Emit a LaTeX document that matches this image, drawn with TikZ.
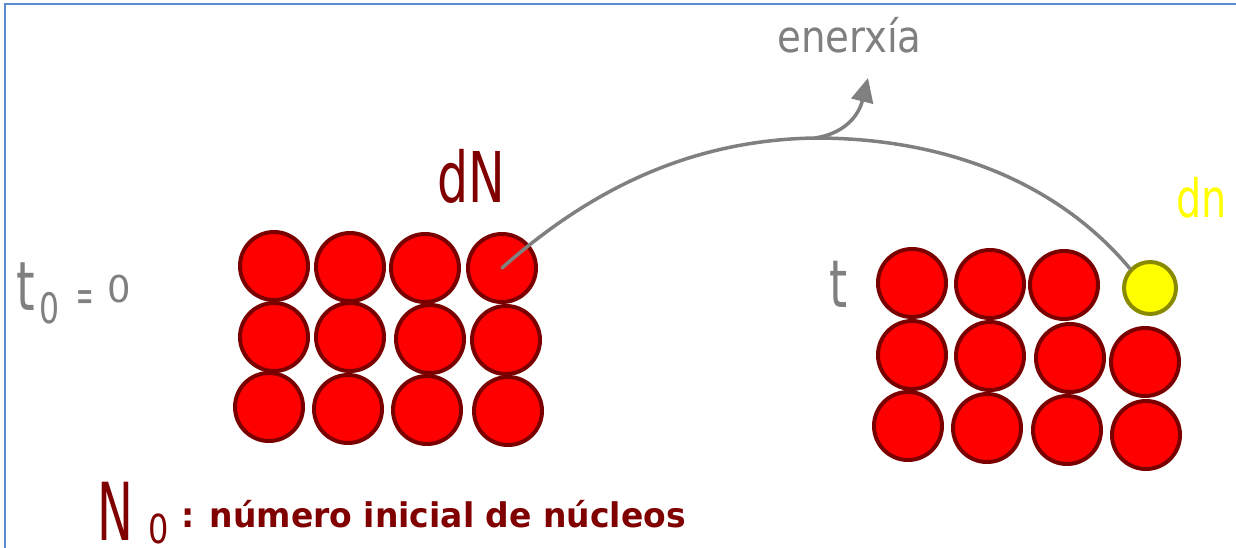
\documentclass[tikz,border=0pt]{standalone}
\usepackage{fontspec}
\setmainfont{DejaVu Sans}
\usetikzlibrary{arrows.meta}
\definecolor{nred}{HTML}{FF0000}
\definecolor{nedge}{HTML}{7A0000}
\definecolor{dred}{HTML}{800000}
\definecolor{gtext}{HTML}{808080}
\definecolor{ylw}{HTML}{FFFF00}
\definecolor{yedge}{HTML}{8A8A00}
\definecolor{frameblue}{HTML}{5B8BD0}
\tikzset{
  nucleus/.style={circle, draw=nedge, fill=nred, line width=4pt, minimum size=68pt, inner sep=0pt},
  decayed/.style={circle, draw=yedge, fill=ylw, line width=4pt, minimum size=52pt, inner sep=0pt},
  lbl/.style={inner sep=0pt, anchor=base west},
  flow/.style={draw=gtext, line width=3.5pt, line cap=round},
  framing/.style={draw=frameblue, line width=2pt}
}
\begin{document}
\begin{tikzpicture}[x=1pt,y=-1pt]
\path[use as bounding box, clip] (0,0) rectangle (1236,548);
\fill[white] (0,0) rectangle (1236,548);
\draw[framing] (4.5,548) -- (4.5,4.5) -- (1236,4.5);

% left group of nuclei (t0)
\node[nucleus] (L11) at (274,266) {};
\node[nucleus] (L12) at (350,267) {};
\node[nucleus] (L13) at (425,268) {};
\node[nucleus] (L14) at (502,268) {};
\node[nucleus] (L21) at (274,337) {};
\node[nucleus] (L22) at (350,337) {};
\node[nucleus] (L23) at (430,339) {};
\node[nucleus] (L24) at (506,340) {};
\node[nucleus] (L31) at (269,407) {};
\node[nucleus] (L32) at (348,409) {};
\node[nucleus] (L33) at (427,410) {};
\node[nucleus] (L34) at (508,411) {};

% right group of nuclei (t)
\node[nucleus] (R11) at (912,283) {};
\node[nucleus] (R12) at (990,284) {};
\node[nucleus] (R13) at (1064,285) {};
\node[decayed] (Y) at (1150,288) {};
\node[nucleus] (R21) at (912,355) {};
\node[nucleus] (R22) at (990,356) {};
\node[nucleus] (R23) at (1070,358) {};
\node[nucleus] (R24) at (1145,362) {};
\node[nucleus] (R31) at (908,426) {};
\node[nucleus] (R32) at (987,428) {};
\node[nucleus] (R33) at (1067,430) {};
\node[nucleus] (R34) at (1146,435) {};

% connectors
\coordinate (peak) at (815,138);
\coordinate (etip) at (868,78);
\draw[flow] (L14.center) .. controls (590,190) and (690,140) .. (peak)
  .. controls (950,138) and (1060,185) .. (Y.136);
\draw[flow, -{Triangle[length=24pt,width=22pt]}] (peak) .. controls (842,134) and (858,118) .. (etip);

% labels
\node[lbl, text=gtext, font=\fontsize{44}{44}\selectfont] (en) at (777,53) {\scalebox{0.88}[1]{enerxía}};
\node[lbl, text=dred, font=\fontsize{70}{70}\selectfont] (dN) at (437,203) {\scalebox{0.7}[1]{dN}};
\node[lbl, text=ylw, font=\fontsize{53}{53}\selectfont] (dn) at (1176,217) {\scalebox{0.75}[1]{dn}};

\node[lbl, text=gtext, font=\fontsize{68}{68}\selectfont] (t0t) at (16,310) {\scalebox{0.7}[1]{t}};
\node[lbl, text=gtext, font=\fontsize{42}{42}\selectfont] (t0s) at (39,323) {\scalebox{0.75}[1]{0}};
\node[inner sep=0pt, anchor=base, text=gtext, font=\fontsize{46}{46}\selectfont] (t0e) at (85,311) {\scalebox{0.45}[1]{=}};
\node[lbl, text=gtext, font=\fontsize{37}{37}\selectfont] (t0z) at (107,302) {0};
\node[lbl, text=gtext, font=\fontsize{66}{66}\selectfont] (tt) at (829,307) {\scalebox{0.7}[1]{t}};

\node[lbl, text=dred, font=\fontsize{80}{80}\selectfont] (N0N) at (97,540) {\scalebox{0.6}[1]{N}};
\node[lbl, text=dred, font=\fontsize{40}{40}\selectfont] (N0s) at (148,543) {\scalebox{0.8}[1]{0}};
\node[lbl, text=dred, font=\bfseries\fontsize{34}{34}\selectfont] (N0t) at (181,527) {\scalebox{0.97}[1]{: número inicial de núcleos}};
\end{tikzpicture}
\end{document}
